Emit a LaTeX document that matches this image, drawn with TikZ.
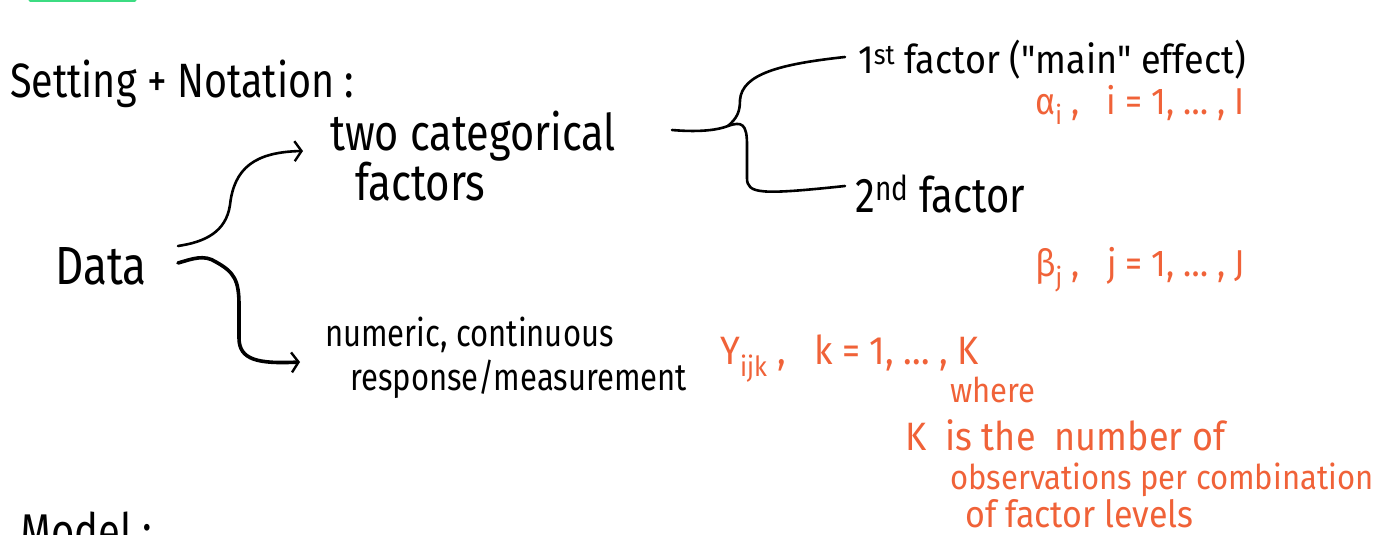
\documentclass[tikz,border=0pt]{standalone}
\usepackage{fontspec}
\usepackage{graphicx}
\setmainfont{Fira Sans}
\usetikzlibrary{arrows.meta}
\definecolor{inkorange}{RGB}{240,98,56}
\definecolor{inkgreen}{RGB}{60,220,130}
\newcommand{\tall}[1]{\scalebox{1}[1.22]{#1}}
\newcommand{\taller}[1]{\scalebox{1}[1.1]{#1}}
\tikzset{
  blk/.style={anchor=base west, inner sep=0pt, text=black, font=\fontsize{#1}{#1}\selectfont},
  org/.style={anchor=base west, inner sep=0pt, text=inkorange, font=\fontsize{#1}{#1}\selectfont},
  conn/.style={line width=2.6pt, line cap=round, line join=round},
  arr/.style={conn, -{Straight Barb[length=7pt,width=20pt,line width=2.4pt]}}
}
\begin{document}
\begin{tikzpicture}[x=1pt,y=-1pt]
\useasboundingbox (0,0) rectangle (1393,535);
\clip (0,0) rectangle (1393,535);
% green mark at top edge
\draw[inkgreen, line width=3pt, line cap=round] (30,0.5) -- (135,0.5);

% black titles
\node[blk=39.5] (title) at (10,97) {\tall{Setting + Notation :}};
\node[blk=44] (data) at (55,284) {\tall{Data}};
\node[blk=41.5] (tc) at (330,150) {\tall{two categorical}};
\node[blk=42] (tc2) at (355,200) {\tall{factors}};
\node[blk=31] (nc) at (325,346) {\tall{numeric, continuous}};
\node[blk=31] (nc2) at (350,390) {\tall{response/measurement}};
\node[blk=36] (f1) at (858,74) {\taller{1\textsuperscript{st} factor (\textquotedbl main\textquotedbl\ effect)}};
\node[blk=40] (f2) at (855,212) {\tall{2\textsuperscript{nd} factor}};
\node[blk=40] (model) at (20,548) {\tall{Model :}};

% orange notes
\node[org=34] (alpha) at (1035,114) {\taller{α\textsubscript{i} ,\ \ \ i = 1, … , I}};
\node[org=34] (beta) at (1035,276) {\taller{β\textsubscript{j} ,\ \ \ j = 1, … , J}};
\node[org=36] (y) at (720,364) {\taller{Y\textsubscript{ijk} ,\ \ \ k = 1, … , K}};
\node[org=31] (where) at (950,402) {\taller{where}};
\node[org=36] (kis) at (905,450) {\taller{K\ \ is the\ \ number of}};
\node[org=31] (obs) at (950,489) {\taller{observations per combination}};
\node[org=34] (lev) at (965,527) {\taller{of factor levels}};

% connectors from Data
\coordinate (dU) at (178,246);
\coordinate (dL) at (178,263);
\coordinate (tU) at (303,151);
\coordinate (tL) at (300,362);
\draw[arr] (dU) .. controls (205,242) and (226,232) .. (230,205)
              .. controls (234,168) and (255,152) .. (tU);
\draw[arr, line width=3.6pt] (dL) .. controls (192,259) and (204,254) .. (216,262)
              .. controls (234,272) and (239,280) .. (239,305)
              -- (239,338) .. controls (239,360) and (258,364) .. (tL);

% bracket to the two factors
\coordinate (bS) at (672,130);
\coordinate (bM) at (728,126);
\coordinate (b1) at (845,57);
\coordinate (b2) at (845,186);
\draw[conn] (bS) .. controls (695,132) and (715,131) .. (bM);
\draw[conn] (bM) .. controls (737,118) and (740,112) .. (740,100)
               .. controls (742,74) and (780,64) .. (b1);
\draw[conn] (bM) .. controls (742,121) and (747,124) .. (747,145)
               -- (747,178) .. controls (747,194) and (760,195) .. (b2);
\end{tikzpicture}
\end{document}
